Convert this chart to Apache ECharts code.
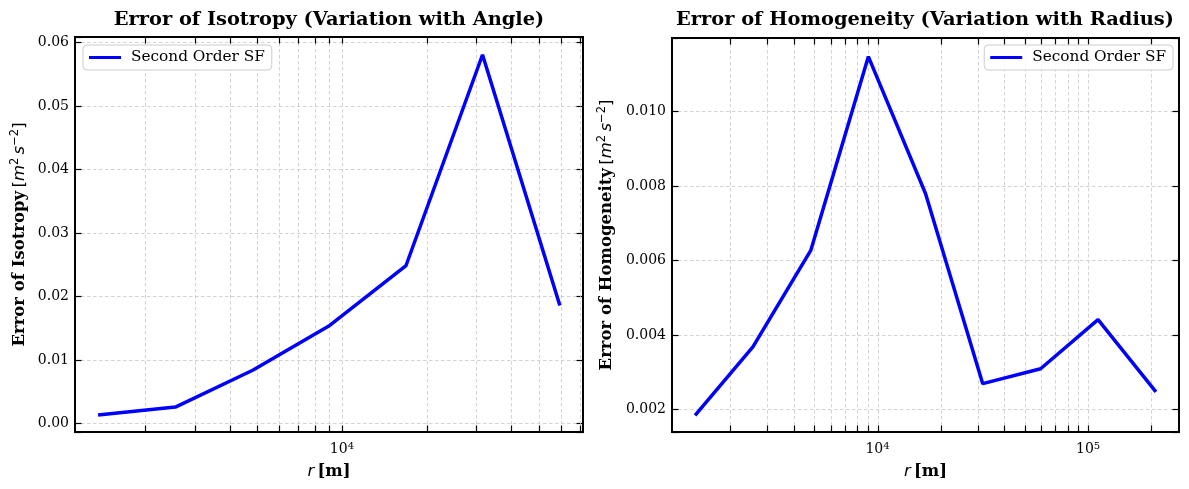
<!DOCTYPE html>
<html><head><meta charset="utf-8">
<script src="https://cdn.jsdelivr.net/npm/echarts@6/dist/echarts.min.js"></script>
<style>html,body{margin:0;padding:0;background:#fff}#c{width:1189px;height:489px}</style>
</head><body><div id="c"></div>
<script>
// ---- data ----
const rIso = [1360, 2560, 4820, 9050, 16900, 31600, 59500];
const errIso = [0.00135, 0.0026, 0.0084, 0.01545, 0.0249, 0.0581, 0.0186];
const rHom = [1360, 2560, 4820, 9050, 16900, 31600, 59500, 111500, 210000];
const errHom = [0.00184, 0.00368, 0.00627, 0.01148, 0.0078, 0.00269, 0.00309, 0.00441, 0.00247];
const xIsoTicks = [2000,3000,4000,5000,6000,7000,8000,9000,10000,20000,30000,40000,50000,60000,70000];
const xHomTicks = [2000,3000,4000,5000,6000,7000,8000,9000,10000,20000,30000,40000,50000,60000,70000,80000,90000,100000,200000];
const xIsoRange = [1126, 71900];
const yIsoRange = [-0.00133, 0.0609];
const xHomRange = [1057, 270200];
const yHomRange = [0.00139, 0.01198];
const titles = ['Error of Isotropy (Variation with Angle)', 'Error of Homogeneity (Variation with Radius)'];
const yNames = ['Error of Isotropy', 'Error of Homogeneity'];
const seriesName = 'Second Order SF';

const SERIF = 'DejaVu Serif';
const GRIDC = '#c8c8c8';
const FRAME = 1.8;
const chart = echarts.init(document.getElementById('c'), null, {renderer: 'canvas'});

function isMultiple(v, step) { const q = v / step; return Math.abs(q - Math.round(q)) < 1e-6; }
function isPow10(v) { const l = Math.log10(v); return Math.abs(l - Math.round(l)) < 1e-6; }

function tickRender(yr) {
  return function (params, api) {
    const v = api.value(0);
    const b = api.coord([v, yr[0]]);
    const t = api.coord([v, yr[1]]);
    const x = Math.round(b[0]) + 0.5;
    return {type: 'group', children: [
      {type: 'line', shape: {x1: x, y1: t[1], x2: x, y2: b[1]}, style: {stroke: GRIDC, lineWidth: 0.8, lineDash: [3.5, 2.5]}},
      {type: 'line', shape: {x1: x, y1: b[1], x2: x, y2: b[1] - 6.5}, style: {stroke: '#000', lineWidth: 1.2}},
      {type: 'line', shape: {x1: x, y1: t[1], x2: x, y2: t[1] + 6.5}, style: {stroke: '#000', lineWidth: 1.2}}
    ]};
  };
}

const nameRich = {
  b: {fontFamily: SERIF, fontWeight: 'bold', fontSize: 16.5, color: '#000'},
  n: {fontFamily: 'DejaVu Sans', fontSize: 16.5, color: '#000'},
  i: {fontFamily: 'DejaVu Sans', fontStyle: 'italic', fontSize: 16.5, color: '#000'},
  s: {fontFamily: 'DejaVu Sans', fontSize: 11.5, color: '#000', verticalAlign: 'top', padding: [0, 0, 9, 0]}
};
const xLabelRich = {
  base: {fontFamily: SERIF, fontSize: 14, color: '#000'},
  sup: {fontFamily: SERIF, fontSize: 10, color: '#000', verticalAlign: 'top', padding: [0, 0, 6, 0]}
};

function xAxisCfg(gi, range) {
  return {
    type: 'log', logBase: 10, gridIndex: gi, min: range[0], max: range[1],
    axisLine: {show: true, onZero: false, lineStyle: {color: '#000', width: FRAME}},
    axisTick: {show: false}, splitLine: {show: false}, minorTick: {show: false},
    axisLabel: {
      margin: 9, showMinLabel: false, showMaxLabel: false,
      formatter: v => isPow10(v) ? '{base|10}{sup|' + Math.round(Math.log10(v)) + '}' : '',
      rich: xLabelRich
    },
    name: '{i|r} {b|[m]}', nameLocation: 'middle', nameGap: 31,
    nameTextStyle: {rich: nameRich}
  };
}
function yAxisCfg(gi, range, step, digits, name, gap) {
  return {
    type: 'value', gridIndex: gi, min: range[0], max: range[1], splitNumber: gi === 0 ? 6 : 5,
    axisLine: {show: true, lineStyle: {color: '#000', width: FRAME}},
    axisTick: {show: true, inside: true, length: 6.5, lineStyle: {color: '#000', width: 1.2}},
    splitLine: {show: true, showMinLine: false, showMaxLine: false, lineStyle: {color: GRIDC, width: 0.8, type: [3.5, 2.5]}},
    axisLabel: {
      margin: 6, fontFamily: SERIF, fontSize: 14, color: '#000',
      formatter: v => isMultiple(v, step) ? v.toFixed(digits) : ''
    },
    name: name, nameLocation: 'middle', nameRotate: 90, nameGap: gap,
    nameTextStyle: {rich: nameRich}
  };
}
function yAxisRight(gi, range) {
  return {
    type: 'value', gridIndex: gi, position: 'right', min: range[0], max: range[1], splitNumber: gi === 0 ? 6 : 5,
    axisLine: {show: true, lineStyle: {color: '#000', width: FRAME}},
    axisTick: {show: true, inside: true, length: 6.5, lineStyle: {color: '#000', width: 1.2}},
    splitLine: {show: false}, axisLabel: {show: false}
  };
}
function legendCfg(pos) {
  return Object.assign({
    data: [{name: seriesName, icon: 'rect'}], top: 45, orient: 'horizontal',
    itemWidth: 32, itemHeight: 3, itemGap: 8,
    backgroundColor: 'rgba(255,255,255,0.85)', borderColor: '#cccccc', borderWidth: 1, borderRadius: 4,
    padding: [5, 7, 5, 6], selectedMode: false,
    textStyle: {fontFamily: SERIF, fontSize: 15.3, color: '#000', padding: [0, 0, 0, 5]}
  }, pos);
}

const option = {
  backgroundColor: '#fff',
  animation: false,
  title: [
    {text: titles[0], left: 324, top: 5, textAlign: 'center', textStyle: {fontFamily: SERIF, fontWeight: 'bold', fontSize: 19.4, color: '#000'}},
    {text: titles[1], left: 920, top: 5, textAlign: 'center', textStyle: {fontFamily: SERIF, fontWeight: 'bold', fontSize: 19.4, color: '#000'}}
  ],
  grid: [
    {left: 75, top: 37, width: 508, height: 395, show: true, borderColor: '#000', borderWidth: FRAME, backgroundColor: 'transparent'},
    {left: 672, top: 38, width: 507, height: 394, show: true, borderColor: '#000', borderWidth: FRAME, backgroundColor: 'transparent'}
  ],
  legend: [legendCfg({left: 83}), legendCfg({right: 16})],
  xAxis: [xAxisCfg(0, xIsoRange), xAxisCfg(1, xHomRange)],
  yAxis: [
    yAxisCfg(0, yIsoRange, 0.01, 2, '{b|' + yNames[0] + '} {n|[}{i|m}{s|2} {i|s}{s|−2}{n|]}', 45),
    yAxisCfg(1, yHomRange, 0.002, 3, '{b|' + yNames[1] + '} {n|[}{i|m}{s|2} {i|s}{s|−2}{n|]}', 55),
    yAxisRight(0, yIsoRange),
    yAxisRight(1, yHomRange)
  ],
  series: [
    {type: 'custom', xAxisIndex: 0, yAxisIndex: 0, z: 1, silent: true, clip: false,
     renderItem: tickRender(yIsoRange), data: xIsoTicks.map(v => [v, 0]), encode: {x: 0, y: 1}},
    {type: 'custom', xAxisIndex: 1, yAxisIndex: 1, z: 1, silent: true, clip: false,
     renderItem: tickRender(yHomRange), data: xHomTicks.map(v => [v, 0]), encode: {x: 0, y: 1}},
    {name: seriesName, type: 'line', xAxisIndex: 0, yAxisIndex: 0, z: 3, showSymbol: false, symbol: 'none',
     lineStyle: {color: '#0000ff', width: 3.5}, itemStyle: {color: '#0000ff'},
     data: rIso.map((r, i) => [r, errIso[i]])},
    {name: seriesName, type: 'line', xAxisIndex: 1, yAxisIndex: 1, z: 3, showSymbol: false, symbol: 'none',
     lineStyle: {color: '#0000ff', width: 3.5}, itemStyle: {color: '#0000ff'},
     data: rHom.map((r, i) => [r, errHom[i]])}
  ]
};
chart.setOption(option);
</script></body></html>
